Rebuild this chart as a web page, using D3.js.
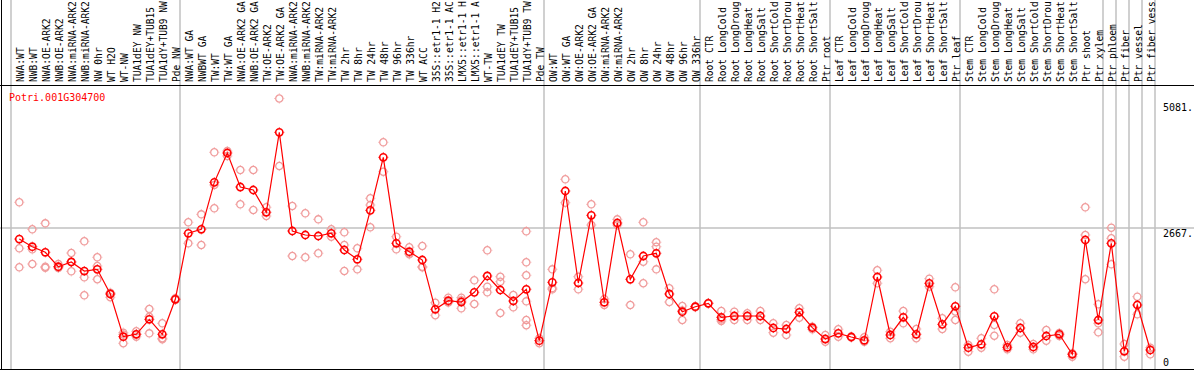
<!DOCTYPE html>
<html>
<head>
<meta charset="utf-8">
<script src="https://cdn.jsdelivr.net/npm/d3@7/dist/d3.min.js"></script>
<style>
  body { margin: 0; background: #fff; }
  text { font-family: "DejaVu Sans Mono", "Liberation Mono", monospace; }
</style>
</head>
<body>
<script>

var gene = "Potri.001G304700";

var labels = [
  "NWA:WT","NWB:WT","NWA:OE-ARK2","NWB:OE-ARK2","NWA:miRNA-ARK2","NWB:miRNA-ARK2","NW 0hr","WT H2O","WT-NW","TUA1dEY NW","TUA1dEY+TUB15","TUA1dY+TUB9 NW","Pde NW",
  "NWA:WT GA","NWBWT GA","TW:WT","TW:WT GA","NWA:OE-ARK2 GA","NWB:OE-ARK2 GA","TW:OE-ARK2","TW:OE-ARK2 GA","NWA:miRNA-ARK2","NWB:miRNA-ARK2","TW:miRNA-ARK2","TW:miRNA-ARK2","TW 2hr","TW 8hr","TW 24hr","TW 48hr","TW 96hr","TW 336hr","WT ACC","35S::etr1-1 H2","35S::etr1-1 AC","LMX5::etr1-1 H","LMX5::etr1-1 A","WT-TW","TUA1dEY TW","TUA1dEY+TUB15","TUA1dY+TUB9 TW","Pde TW",
  "OW:WT","OW:WT GA","OW:OE-ARK2","OW:OE-ARK2 GA","OW:miRNA-ARK2","OW:miRNA-ARK2","OW 2hr","OW 8hr","OW 24hr","OW 48hr","OW 96hr","OW 336hr",
  "Root CTR","Root LongCold","Root LongDroug","Root LongHeat","Root LongSalt","Root ShortCold","Root ShortDrou","Root ShortHeat","Root ShortSalt","Ptr root",
  "Leaf CTR","Leaf LongCold","Leaf LongDroug","Leaf LongHeat","Leaf LongSalt","Leaf ShortCold","Leaf ShortDrou","Leaf ShortHeat","Leaf ShortSalt","Ptr leaf",
  "Stem CTR","Stem LongCold","Stem LongDroug","Stem LongHeat","Stem LongSalt","Stem ShortCold","Stem ShortDrou","Stem ShortHeat","Stem ShortSalt","Ptr shoot","Ptr xylem",
  "Ptr phloem","Ptr fiber","Ptr vessel","Ptr fiber vess"
];

// index of the first sample of each group (vertical separators)
var group_starts = [0, 13, 41, 53, 63, 73, 84, 85, 86, 87, 88];

var means = [
  2441,2297,2192,1921,2010,1840,1872,1409,607,652,933,652,1309,
  2549,2624,3506,4057,3418,3362,2943,4445,2592,2517,2498,2549,2235,2060,2980,3976,2361,2203,2047,1121,1283,1258,1440,1747,1484,1277,1497,532,
  1628,3343,1615,2887,1253,2742,1685,2122,2173,1409,1076,1170,
  1234,971,995,995,995,770,751,1065,776,563,
  670,601,539,1728,639,971,652,1610,839,1178,
  400,464,990,408,770,413,620,652,276,2423,920,
  2361,332,1202,357
];

var replicates = [
  [3131,2267,1910],[2624,2248,1972],[2736,1921,1902],[1972,1921,1897],[2178,2010,1835],[2398,1722,1384],[2098,1934,1685],[1433,1409,1347],[682,650,483],[708,652,607],[1127,982,670],[858,577,560],[1328,1309,1296],
  [2755,2361],[2905,2329],[4070,3456,3018],[4094,4000],[3737,3093],[3737,2986],[3037,2873],[5081,3812],[3061,2122],[2924,2098],[2811,2173],[2624,2485],[2567,2329,1840],[2267,1872],[3206,3080,2661],[4258,3705],[2485,2248],[2286,2154,2170],[2310,1921,1910],[1245,1009],[1340,1250,1260],[1339,1140,1290],[1666,1221],[2229,1546,1440],[1733,1640,1052],[1390,1159],[2586,2004,1760,1271,920,821],[577,483],
  [1872,1497,1520],[3563,3123],[1733,1497],[3093,2704],[1315,1202],[2811,2704],[2154,1202],[2755,2015,1610],[2380,2297,1872],[1516,1258],[1183,1100,920],[1160,1180],
  [1230,1240],[1089,930,901],[1076,920],[1046,920],[1089,920],[858,682],[826,639],[1140,963],[794,745],[639,513],
  [746,607],[590,610],[595,513],[1854,1610],[577,700],[1089,858],[751,577],[1696,1546],[952,751],[1534,1080,920],
  [451,325],[577,400],[1497,826,625],[451,370],[858,682],[470,370],[732,531],[676,620],[295,231],[3037,2517,1685],[1215,858,689],
  [2654,2455,1966],[470,231],[1358,1027],[400,276]
];

var y_max = 5081;
var y_mid = 2667;

var width = 1194;
var height = 370;
var plot_left = 11, plot_right = 1155, plot_top = 85, plot_bottom = 369;

var svg = d3.select("body").append("svg")
    .attr("width", width)
    .attr("height", height);

var x = d3.scaleBand()
    .domain(d3.range(labels.length))
    .range([plot_left, plot_right]);

var y = d3.scaleLinear()
    .domain([0, y_mid * 2])
    .range([plot_bottom, plot_top]);

function px(i) { return x(i) + 8.3; }
function sep_x(i) { return i < labels.length ? x(i) : plot_right; }

// group separators
svg.selectAll("line.sep")
    .data(group_starts)
    .enter()
    .append("line")
    .attr("class", "sep")
    .attr("x1", function (d) { return sep_x(d); })
    .attr("x2", function (d) { return sep_x(d); })
    .attr("y1", 0)
    .attr("y2", plot_bottom)
    .attr("stroke", "#c0c0c0")
    .attr("stroke-width", 1.5);

// mid gridline
svg.append("line")
    .attr("x1", 0).attr("x2", width)
    .attr("y1", y(y_mid) + 1).attr("y2", y(y_mid) + 1)
    .attr("stroke", "#c0c0c0")
    .attr("stroke-width", 1.5);

// frame lines
svg.append("line")
    .attr("x1", 0).attr("x2", width)
    .attr("y1", plot_top + 0.5).attr("y2", plot_top + 0.5)
    .attr("stroke", "#000");
svg.append("line")
    .attr("x1", 0).attr("x2", width)
    .attr("y1", plot_bottom + 0.5).attr("y2", plot_bottom + 0.5)
    .attr("stroke", "#000");
svg.append("line")
    .attr("x1", 1.5).attr("x2", 1.5)
    .attr("y1", 0).attr("y2", plot_bottom)
    .attr("stroke", "#000");

// sample labels, vertical
svg.selectAll("text.lab")
    .data(labels)
    .enter()
    .append("text")
    .attr("class", "lab")
    .attr("transform", function (d, i) {
      return "translate(" + (x(i) + 12.5) + ",82) rotate(-90)";
    })
    .attr("font-size", "9.6px")
    .attr("fill", "#000")
    .text(function (d) { return d; });

// value labels on the right
var ticks = [
  {v: y_max, dy: 12.3, t: y_max + "."},
  {v: y_mid, dy: 9.5, t: y_mid + "."},
  {v: 0, dy: -3.5, t: "0"}
];
svg.selectAll("text.tick")
    .data(ticks)
    .enter()
    .append("text")
    .attr("class", "tick")
    .attr("x", plot_right + 8)
    .attr("y", function (d) { return y(d.v) + d.dy; })
    .attr("font-size", "10px")
    .attr("fill", "#000")
    .text(function (d) { return d.t; });

svg.append("text")
    .attr("x", 9)
    .attr("y", 100.5)
    .attr("font-size", "10px")
    .attr("fill", "#ff0000")
    .text(gene);

function marker(sel, color, sw) {
  sel.append("circle")
      .attr("r", 3.6)
      .attr("fill", "none")
      .attr("stroke", color)
      .attr("stroke-width", sw);
  sel.append("path")
      .attr("d", "M0,-5V-4.2M0,4.2V5M-5,0H-4.2M4.2,0H5")
      .attr("stroke", color)
      .attr("stroke-width", 0.9);
}

// replicate points
var reps = [];
replicates.forEach(function (r, i) {
  r.forEach(function (v) { reps.push({i: i, v: v}); });
});

svg.append("g").selectAll("g")
    .data(reps)
    .enter()
    .append("g")
    .attr("transform", function (d) { return "translate(" + px(d.i) + "," + y(d.v) + ")"; })
    .call(marker, "#f09c9c", 1.3);

// mean line
var line = d3.line()
    .x(function (d, i) { return px(i); })
    .y(function (d) { return y(d); });

svg.append("path")
    .datum(means)
    .attr("d", line)
    .attr("fill", "none")
    .attr("stroke", "#ff0000")
    .attr("stroke-width", 1.2);

svg.append("g").selectAll("g")
    .data(means)
    .enter()
    .append("g")
    .attr("transform", function (d, i) { return "translate(" + px(i) + "," + y(d) + ")"; })
    .call(marker, "#ff0000", 1.6);

</script>
</body>
</html>
